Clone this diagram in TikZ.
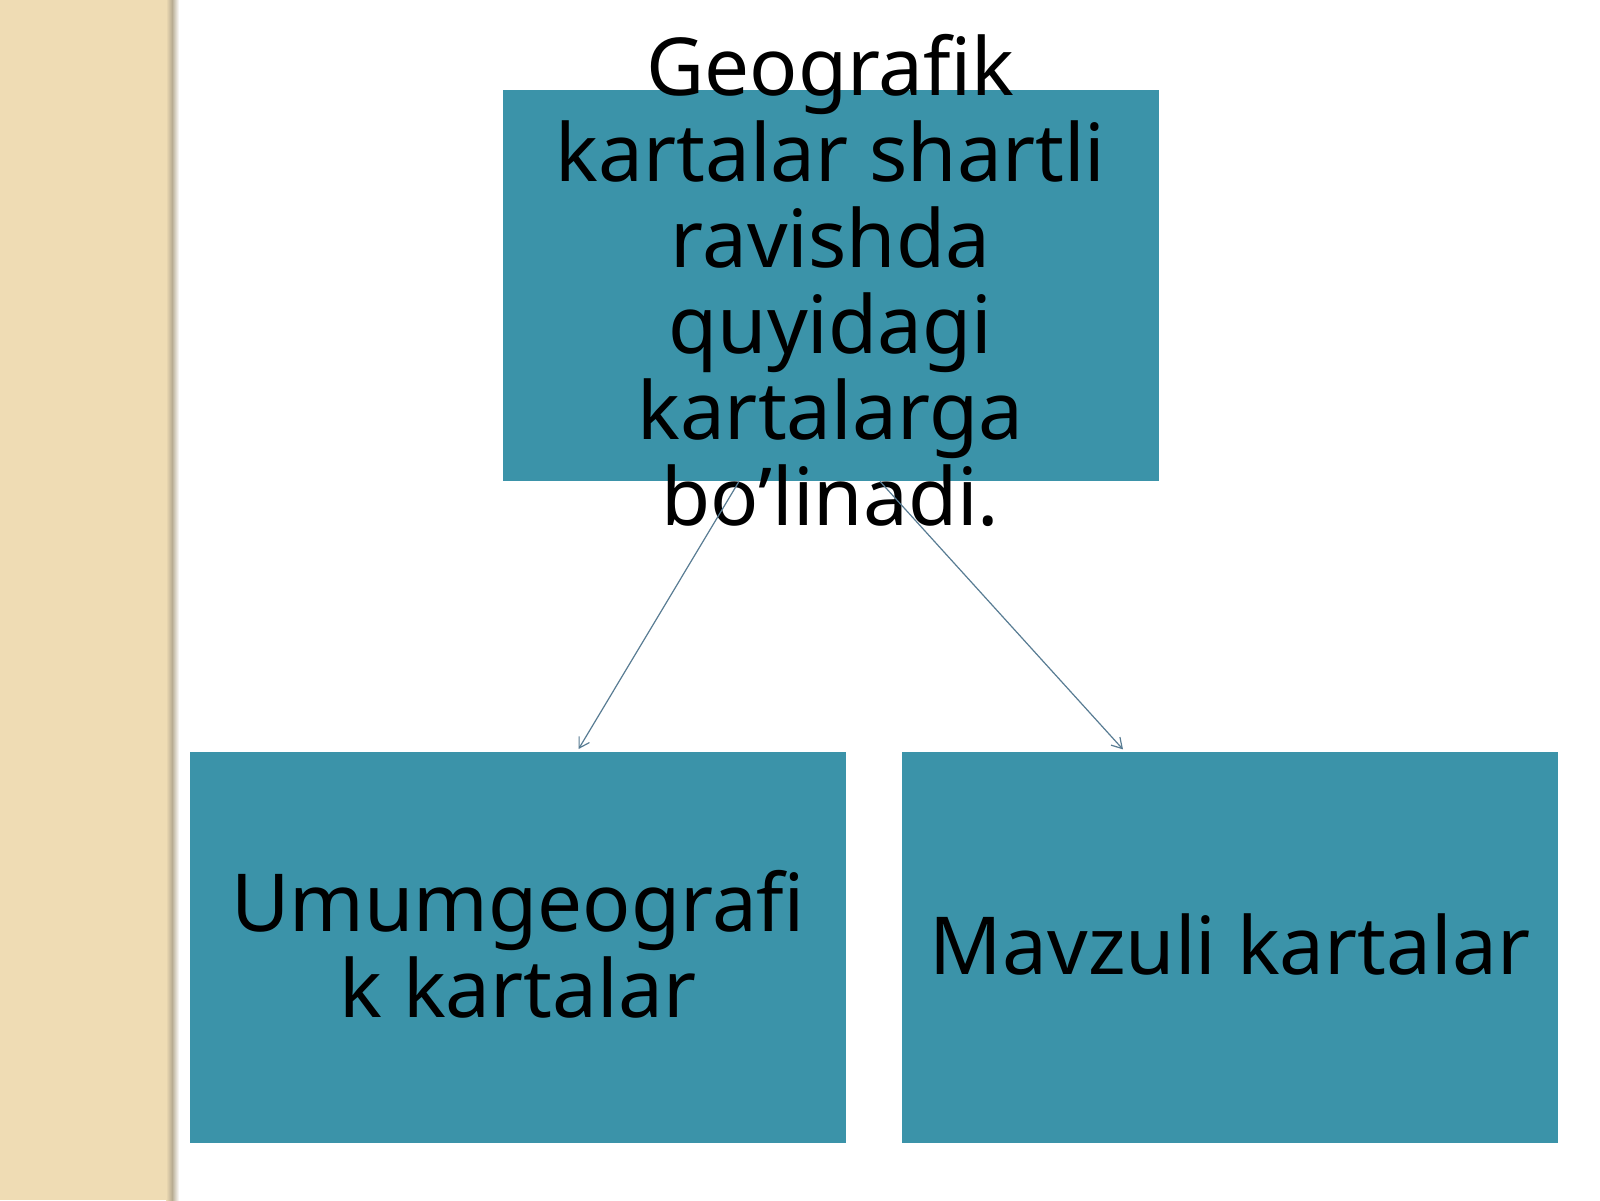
\documentclass[tikz,border=0pt]{standalone}
\usepackage{fontspec}
\setmainfont{Noto Sans}
\usetikzlibrary{arrows.meta}
\definecolor{beige}{HTML}{EFDCB4}
\definecolor{shadowc}{HTML}{B8AC92}
\definecolor{teal}{HTML}{3B93A9}
\definecolor{conncol}{HTML}{587C93}
\tikzset{
  box/.style={draw=none, fill=teal, minimum width=328pt, minimum height=195.5pt, inner sep=0pt},
  boxtext/.style={align=center, inner sep=0pt, text=black, font=\fontsize{40}{43}\selectfont},
  conn/.style={draw=conncol, line width=0.6pt, -{Straight Barb[length=5pt,width=6pt]}, shorten >=1.5pt}
}
\begin{document}
\begin{tikzpicture}[x=0.5pt, y=-0.5pt]
\useasboundingbox (0,0) rectangle (1600,1200);
\fill[white] (0,0) rectangle (1600,1200);
% left strip
\fill[beige] (0,0) rectangle (167,1200);
\shade[left color=beige, right color=shadowc] (166,0) rectangle (172,1200);
\shade[left color=shadowc, right color=white] (172,0) rectangle (179,1200);
% boxes
\node[box] (top) at (830.5,285.5) {};
\node[box] (left) at (518,947.5) {};
\node[box] (right) at (1230,947.5) {};
% texts
\node[boxtext] (toptext) at ([yshift=2.3pt]top.center) {Geografik\\kartalar shartli\\ravishda\\quyidagi\\kartalarga\\bo’linadi.};
\node[boxtext] (lefttext) at ([yshift=1.5pt]left.center) {Umumgeografi\\k kartalar};
\node[boxtext] (righttext) at ([yshift=1.3pt]right.center) {Mavzuli kartalar};
% connectors
\draw[conn] ([xshift=-45.75pt]top.south) -- ([xshift=29.5pt]left.north);
\draw[conn] ([xshift=24.75pt]top.south) -- ([xshift=-52.5pt]right.north);
\end{tikzpicture}
\end{document}
